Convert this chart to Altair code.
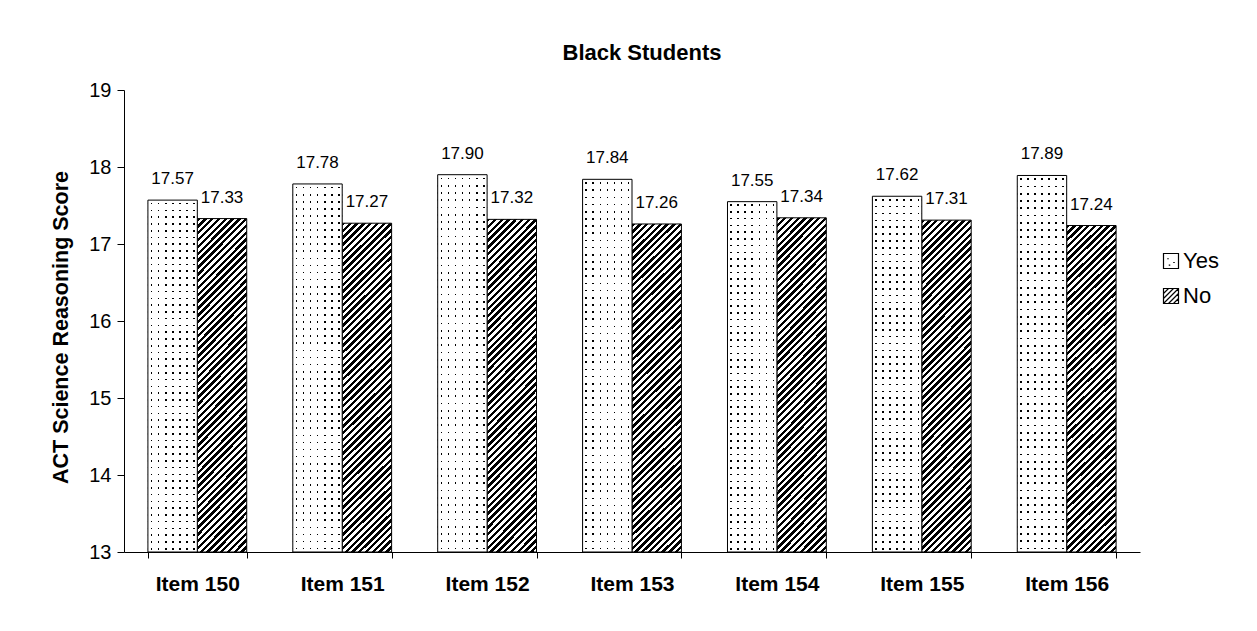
import altair as alt
import pandas as pd

# ---- data ----
items = ["Item 150", "Item 151", "Item 152", "Item 153", "Item 154", "Item 155", "Item 156"]
yes_scores = [17.57, 17.78, 17.90, 17.84, 17.55, 17.62, 17.89]
no_scores = [17.33, 17.27, 17.32, 17.26, 17.34, 17.31, 17.24]
groups = ["Yes", "No"]
y_min, y_max = 13, 19
y_ticks = [13, 14, 15, 16, 17, 18, 19]

rows = []
for it, y, n in zip(items, yes_scores, no_scores):
    rows.append({"Item": it, "Group": "Yes", "Score": y})
    rows.append({"Item": it, "Group": "No", "Score": n})
df = pd.DataFrame(rows)

FONT = "Liberation Sans"


# ---- pattern helpers (styles only) ----
def stripe_stops(n, start, end, on, off):
    stops = []
    for i in range(n):
        a = i / n
        b = (i + start) / n
        c = (i + end) / n
        d = (i + 1) / n
        stops += [
            alt.GradientStop(offset=round(a, 5), color=off),
            alt.GradientStop(offset=round(b, 5), color=off),
            alt.GradientStop(offset=round(b, 5), color=on),
            alt.GradientStop(offset=round(c, 5), color=on),
            alt.GradientStop(offset=round(c, 5), color=off),
            alt.GradientStop(offset=round(d, 5), color=off),
        ]
    return stops


CLEAR = "rgba(255,255,255,0)"

hatch = alt.LinearGradient(
    gradient="linear",
    stops=stripe_stops(56, 0.0, 0.5, "black", "white"),
    x1=0, y1=0, x2=0.168, y2=1.124,
)
dot_rows = alt.LinearGradient(
    gradient="linear",
    stops=stripe_stops(52, 0.4, 0.64, "black", CLEAR),
    x1=0, y1=0, x2=0, y2=1,
)
dot_cols = alt.LinearGradient(
    gradient="linear",
    stops=stripe_stops(7, 0.4, 0.64, CLEAR, "white"),
    x1=0, y1=0, x2=1, y2=0,
)

yes_sym = "M-1,-1H1V1H-1Z M-0.5,-0.3h0.2 M0.3,0.2h0.2 M-0.3,0.55h0.2"
no_sym = ("M-1,-1H1V1H-1Z M-1,-0.33L-0.33,-1 M-1,0.33L0.33,-1 M-1,1L1,-1 "
          "M-0.33,1L1,-0.33 M0.33,1L1,0.33")

x_enc = alt.X(
    "Item:N",
    sort=items,
    scale=alt.Scale(paddingInner=0.318, paddingOuter=0.165),
    axis=alt.Axis(
        title=None, labelAngle=0, labelFont=FONT, labelFontSize=21,
        labelFontWeight="bold", labelColor="black", tickSize=6,
        tickBand="extent", labelPadding=15, domainColor="black",
        tickColor="black",
    ),
)
xo_enc = alt.XOffset("Group:N", sort=groups, scale=alt.Scale(domain=groups, paddingInner=0, paddingOuter=0))
y_enc = alt.Y(
    "Score:Q",
    scale=alt.Scale(domain=[y_min, y_max], nice=False, zero=False),
    axis=alt.Axis(
        title="ACT Science Reasoning Score", titleFont=FONT, titleFontSize=21.5,
        titleFontWeight="bold", titleColor="black", titlePadding=16, titleY=237,
        values=y_ticks, labelFont=FONT, labelFontSize=20,
        labelColor="black", tickSize=7, labelPadding=6, grid=False,
        domainColor="black", tickColor="black",
    ),
)
y2_enc = alt.datum(y_min)

base = alt.Chart(df)

bars = base.mark_bar(strokeWidth=0).encode(
    x=x_enc,
    xOffset=xo_enc,
    y=y_enc,
    y2=y2_enc,
    fill=alt.Fill(
        "Group:N",
        sort=groups,
        scale=alt.Scale(domain=groups, range=["white", "white"]),
        legend=alt.Legend(
            title=None, orient="none", legendX=1036, legendY=160,
            labelFont=FONT, labelFontSize=22, labelColor="black",
            symbolSize=225, labelOffset=1, rowPadding=13, padding=0,
            symbolStrokeColor="black", symbolStrokeWidth=1.2,
            symbolType=alt.ExprRef(
                expr="datum.value == 'Yes' ? '" + yes_sym + "' : '" + no_sym + "'"
            ),
        ),
    ),
)

no_hatch = base.transform_filter(alt.datum.Group == "No").mark_bar(
    fill=hatch, stroke="black", strokeWidth=1
).encode(x=x_enc, xOffset=xo_enc, y=y_enc, y2=y2_enc)

yes_rows = base.transform_filter(alt.datum.Group == "Yes").mark_bar(
    fill=dot_rows, strokeWidth=0
).encode(x=x_enc, xOffset=xo_enc, y=y_enc, y2=y2_enc)

yes_cols = base.transform_filter(alt.datum.Group == "Yes").mark_bar(
    fill=dot_cols, stroke="black", strokeWidth=1
).encode(x=x_enc, xOffset=xo_enc, y=y_enc, y2=y2_enc)

labels = base.mark_text(
    baseline="alphabetic", dy=-16, font=FONT, fontSize=17, color="black"
).encode(x=x_enc, xOffset=xo_enc, y=y_enc, text=alt.Text("Score:Q", format=".2f"))

chart = (
    alt.layer(bars, no_hatch, yes_rows, yes_cols, labels)
    .properties(
        width=1016,
        height=462,
        background="white",
        title=alt.TitleParams(
            "Black Students", font=FONT, fontSize=22, fontWeight="bold",
            color="black", anchor="middle", dx=10, offset=15,
        ),
        autosize=alt.AutoSizeParams(type="none"),
        padding={"left": 116, "top": 82, "right": 100, "bottom": 60},
    )
    .configure_view(stroke=None)
)

chart.save("out.html", embed_options={"renderer": "svg", "actions": False})
